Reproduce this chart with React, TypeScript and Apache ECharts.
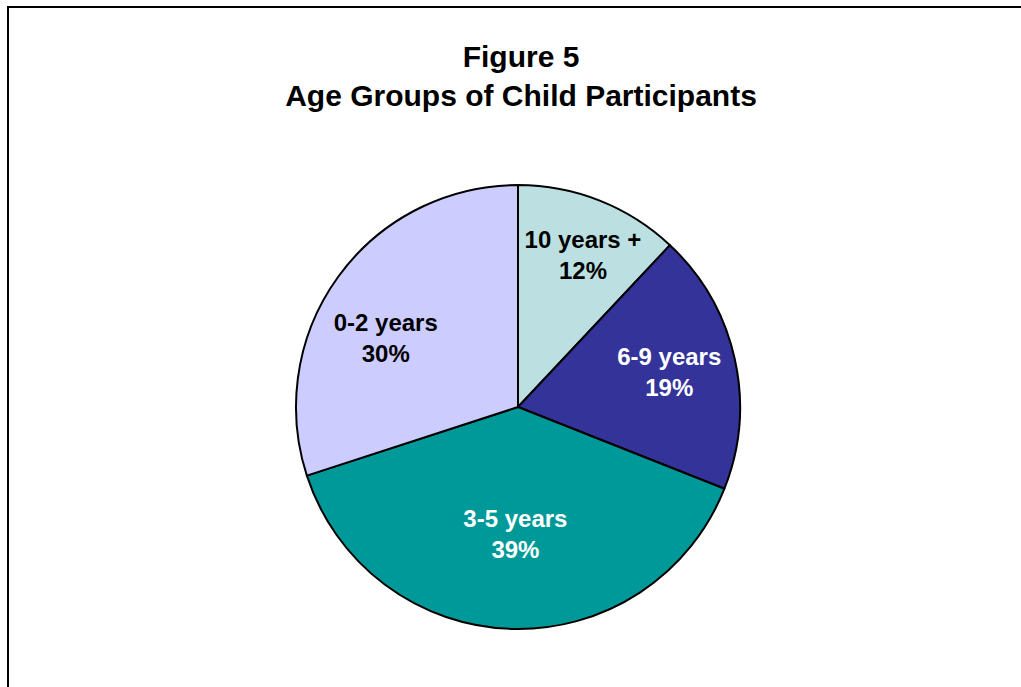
import React, { useEffect, useRef } from "react";
import * as echarts from "echarts";

const TITLE_LINES = ["Figure 5", "Age Groups of Child Participants"];
const CATEGORIES = ["10 years +", "6-9 years", "3-5 years", "0-2 years"];
const VALUES = [12, 19, 39, 30];
const COLORS = ["#BCE0E2", "#333399", "#009999", "#CCCCFF"];
const LABEL_COLORS = ["#000000", "#FFFFFF", "#FFFFFF", "#000000"];
const LABEL_OFFSETS: [number, number][] = [
  [23, -46],
  [40, -10],
  [1, 13],
  [-40, -2],
];

const FONT = "Arial, 'Liberation Sans', sans-serif";

export default function App() {
  const ref = useRef<HTMLDivElement>(null);
  useEffect(() => {
    if (!ref.current) return;
    const chart = echarts.init(ref.current, null, { renderer: "svg" });
    chart.setOption({
      animation: false,
      backgroundColor: "#FFFFFF",
      title: {
        text: TITLE_LINES.join("\n"),
        left: 516,
        textAlign: "center",
        top: 32,
        textStyle: {
          fontFamily: FONT,
          fontWeight: "bold",
          fontSize: 30,
          lineHeight: 39,
          color: "#000000",
        },
      },
      graphic: [
        {
          type: "rect",
          shape: { x: 8, y: 7, width: 1100, height: 800 },
          style: { fill: "none", stroke: "#000000", lineWidth: 2 },
          silent: true,
        },
      ],
      series: [
        {
          type: "pie",
          center: [518, 407],
          radius: 222,
          startAngle: 90,
          clockwise: true,
          avoidLabelOverlap: false,
          itemStyle: { borderColor: "#000000", borderWidth: 2 },
          label: {
            show: true,
            position: "inside",
            formatter: "{b}\n{c}%",
            fontFamily: FONT,
            fontWeight: "bold",
            fontSize: 24,
            lineHeight: 31,
          },
          labelLine: { show: false },
          emphasis: { disabled: true },
          labelLayout: (params: any) => {
            const o = LABEL_OFFSETS[params.dataIndex] || [0, 0];
            return { dx: o[0], dy: o[1] };
          },
          data: CATEGORIES.map((name, i) => ({
            name,
            value: VALUES[i],
            itemStyle: { color: COLORS[i] },
            label: { color: LABEL_COLORS[i] },
          })),
        },
      ],
    });
    return () => chart.dispose();
  }, []);
  return (
    <div
      ref={ref}
      style={{ position: "fixed", left: 0, top: 0, width: 1021, height: 687 }}
    />
  );
}
